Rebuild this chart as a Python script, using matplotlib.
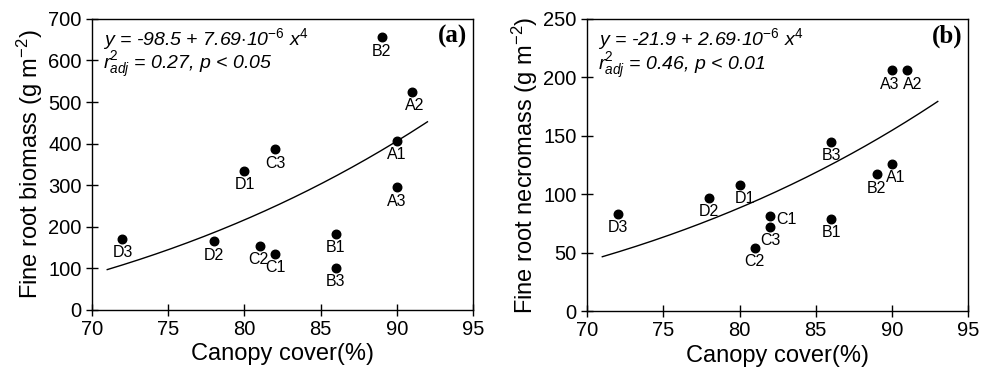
import numpy as np
import matplotlib
matplotlib.use("Agg")
import matplotlib.pyplot as plt

plt.rcParams['font.family'] = ['Liberation Sans', 'DejaVu Sans']
plt.rcParams['mathtext.fontset'] = 'custom'
plt.rcParams['mathtext.rm'] = 'Liberation Sans'
plt.rcParams['mathtext.it'] = 'Liberation Sans:italic'
plt.rcParams['mathtext.bf'] = 'Liberation Sans:bold'
plt.rcParams['mathtext.default'] = 'it'

# plot names and canopy cover (%)
names = ['A1', 'A2', 'A3', 'B1', 'B2', 'B3', 'C1', 'C2', 'C3', 'D1', 'D2', 'D3']
cover = [90, 91, 90, 86, 89, 86, 82, 81, 82, 80, 78, 72]

# fine root biomass and necromass (g m-2)
biomass = [406, 524, 295, 183, 656, 101, 135, 154, 386, 334, 165, 171]
necromass = [126, 206, 206, 79, 117, 145, 81, 54, 72, 108, 97, 83]

# fitted curves y = a + b * x^4
fit_a = (-98.5, 7.69e-6, 71, 92)
fit_b = (-21.9, 2.69e-6, 71, 93)

# label offsets (points) that differ from the default (below the dot)
offs_a = {'C2': (-1, -10), 'A2': (2, -10)}
offs_b = {'D1': (4, -10), 'C1': (12, -2), 'A1': (3, -10), 'A3': (-2, -10), 'A2': (4, -10)}

fig = plt.figure(figsize=(9.85, 3.77), dpi=100)
ax1 = fig.add_axes([0.0934, 0.178, 0.387, 0.772])
ax2 = fig.add_axes([0.596, 0.175, 0.387, 0.775])


def panel(ax, ys, fit, offs, ylim, yticks, ylabel, eq, stat, tag):
    ax.scatter(cover, ys, s=38, color='black', zorder=3)
    xx = np.linspace(fit[2], fit[3], 200)
    ax.plot(xx, fit[0] + fit[1] * xx ** 4, color='black', lw=1.0)
    for n, x, y in zip(names, cover, ys):
        dx, dy = offs.get(n, (0, -10))
        ax.annotate(n, (x, y), xytext=(dx, dy), textcoords='offset points',
                    ha='center', va='center', fontsize=11.5)
    ax.set_xlim(70, 95)
    ax.set_ylim(*ylim)
    ax.set_xticks([70, 75, 80, 85, 90, 95])
    ax.set_yticks(yticks)
    ax.tick_params(direction='inout', length=8, width=1, labelsize=14.5,
                   top=False, right=False)
    for s in ax.spines.values():
        s.set_linewidth(1.0)
    ax.set_xlabel('Canopy cover(%)', fontsize=17, labelpad=3)
    ax.set_ylabel(ylabel, fontsize=17, labelpad=2)
    ax.text(0.03, 0.93, eq, transform=ax.transAxes, fontsize=14,
            style='italic', va='center')
    ax.text(0.03, 0.84, stat, transform=ax.transAxes, fontsize=14,
            style='italic', va='center')
    ax.text(0.985, 0.94, tag, transform=ax.transAxes, fontsize=18,
            fontweight='bold', family='Liberation Serif', ha='right', va='center')


panel(ax1, biomass, fit_a, offs_a, (0, 700), range(0, 701, 100),
      r'Fine root biomass (g m$^{\mathrm{-2}}$)',
      r'y = -98.5 + 7.69$\cdot$10$^{-6}$ x$^4$',
      r'r$^2_{adj}$ = 0.27, p < 0.05', '(a)')
panel(ax2, necromass, fit_b, offs_b, (0, 250), range(0, 251, 50),
      r'Fine root necromass (g m$^{\mathrm{-2}}$)',
      r'y = -21.9 + 2.69$\cdot$10$^{-6}$ x$^4$',
      r'r$^2_{adj}$ = 0.46, p < 0.01', '(b)')

fig.savefig('out.png', dpi=100)
